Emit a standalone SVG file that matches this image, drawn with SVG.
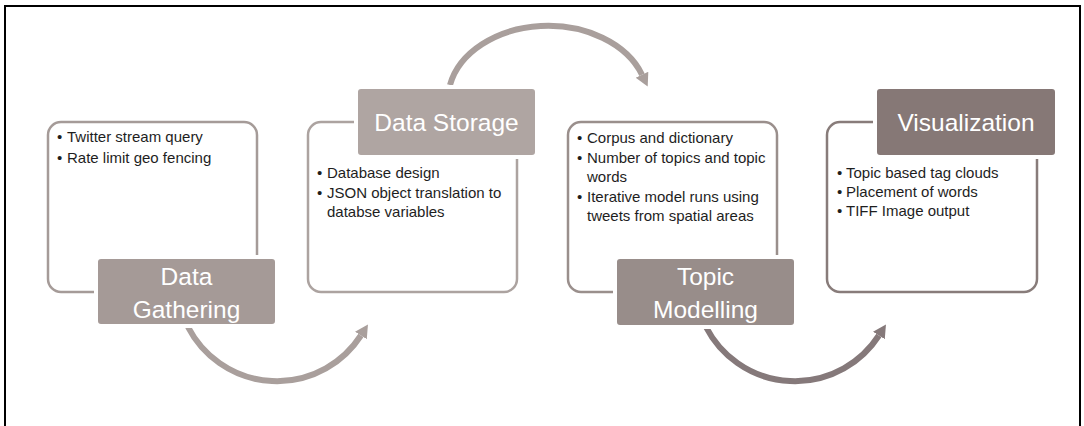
<svg xmlns="http://www.w3.org/2000/svg" width="1084" height="426" viewBox="0 0 1084 426">
  <style>
    .panel { fill: #ffffff; stroke-width: 2.5; }
    .tab { stroke: #ffffff; stroke-width: 4; }
    .tab-text { font-family: "Liberation Sans", Arial, sans-serif; font-size: 24.5px; fill: #ffffff; text-anchor: middle; }
    .item { font-family: "Liberation Sans", Arial, sans-serif; font-size: 15px; fill: #1e1e1e; }
    .flow { fill: none; stroke-width: 6; }
  </style>
  <defs>
    <marker id="head-light" markerUnits="userSpaceOnUse" markerWidth="16" markerHeight="18" refX="0" refY="9" orient="auto" viewBox="0 0 16 18">
      <path d="M0,2 L13,9 L0,16 z" fill="#a99f9c"/>
    </marker>
    <marker id="head-dark" markerUnits="userSpaceOnUse" markerWidth="16" markerHeight="18" refX="0" refY="9" orient="auto" viewBox="0 0 16 18">
      <path d="M0,2 L13,9 L0,16 z" fill="#85797a"/>
    </marker>
  </defs>

  <!-- outer frame -->
  <rect x="5" y="6" width="1075" height="440" fill="none" stroke="#000000" stroke-width="2"/>

  <!-- curved flow arrows between the stages -->
  <g id="connectors">
    <path class="flow" d="M188,327 A100,100 0 0 0 360.9,335.5" stroke="#a99f9c" marker-end="url(#head-light)"/>
    <path class="flow" d="M450,85 A100,74 0 0 1 642,74.7" stroke="#a99f9c" marker-end="url(#head-light)"/>
    <path class="flow" d="M706,327 A100,100 0 0 0 878.9,335.5" stroke="#85797a" marker-end="url(#head-dark)"/>
  </g>

  <!-- stage 1 -->
  <g id="data-gathering">
    <rect class="panel" x="48" y="122" width="209" height="170" rx="13" stroke="#a59b98"/>
    <text class="item"><tspan x="57" y="142">•</tspan><tspan x="67" y="142">Twitter stream query</tspan></text>
    <text class="item"><tspan x="57" y="163">•</tspan><tspan x="67" y="163">Rate limit geo fencing</tspan></text>
    <rect class="tab" x="96" y="257" width="181" height="69" rx="5" fill="#a59a97"/>
    <text class="tab-text" x="186.5" y="285">Data</text>
    <text class="tab-text" x="186.5" y="318">Gathering</text>
  </g>

  <!-- stage 2 -->
  <g id="data-storage">
    <rect class="panel" x="308" y="122" width="209" height="170" rx="13" stroke="#aca3a0"/>
    <text class="item"><tspan x="317" y="178">•</tspan><tspan x="327" y="178">Database design</tspan></text>
    <text class="item"><tspan x="317" y="198">•</tspan><tspan x="327" y="198">JSON object translation to</tspan></text>
    <text class="item" x="327" y="217">databse variables</text>
    <rect class="tab" x="356" y="87" width="181" height="70" rx="5" fill="#afa5a2"/>
    <text class="tab-text" x="446.5" y="131">Data Storage</text>
  </g>

  <!-- stage 3 -->
  <g id="topic-modelling">
    <rect class="panel" x="568" y="122" width="209" height="170" rx="13" stroke="#9a8f8c"/>
    <text class="item"><tspan x="577" y="143">•</tspan><tspan x="587" y="143">Corpus and dictionary</tspan></text>
    <text class="item"><tspan x="577" y="163">•</tspan><tspan x="587" y="163">Number of topics and topic</tspan></text>
    <text class="item" x="587" y="182">words</text>
    <text class="item"><tspan x="577" y="202">•</tspan><tspan x="587" y="202">Iterative model runs using</tspan></text>
    <text class="item" x="587" y="221">tweets from spatial areas</text>
    <rect class="tab" x="615" y="257" width="181" height="70" rx="5" fill="#988d8a"/>
    <text class="tab-text" x="705.5" y="285">Topic</text>
    <text class="tab-text" x="705.5" y="318">Modelling</text>
  </g>

  <!-- stage 4 -->
  <g id="visualization">
    <rect class="panel" x="827" y="122" width="210" height="170" rx="13" stroke="#887c7a"/>
    <text class="item"><tspan x="837" y="178">•</tspan><tspan x="846" y="178">Topic based tag clouds</tspan></text>
    <text class="item"><tspan x="837" y="197">•</tspan><tspan x="846" y="197">Placement of words</tspan></text>
    <text class="item"><tspan x="837" y="216">•</tspan><tspan x="846" y="216">TIFF Image output</tspan></text>
    <rect class="tab" x="875" y="87" width="182" height="70" rx="5" fill="#867876"/>
    <text class="tab-text" x="966" y="131">Visualization</text>
  </g>
</svg>
